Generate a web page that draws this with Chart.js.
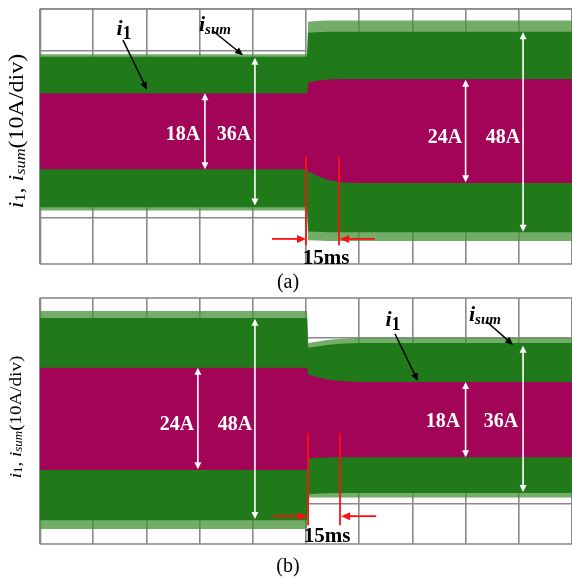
<!DOCTYPE html>
<html>
<head>
<meta charset="utf-8">
<script src="https://cdn.jsdelivr.net/npm/chart.js@4.4.1/dist/chart.umd.min.js"></script>
<style>
  html, body { margin: 0; padding: 0; background: #fff; }
  #wrap { position: relative; width: 572px; height: 579px; overflow: hidden; font-family: "Liberation Serif", "Times New Roman", serif; }
  canvas { position: absolute; left: 0; }
  .lbl { position: absolute; transform: translate(-50%, -50%); white-space: nowrap; line-height: 1; }
  .amp { color: #fff; font-weight: bold; font-size: 20px; }
  .ms { color: #000; font-weight: bold; font-size: 21px; }
  .sig { color: #000; font-weight: bold; font-style: italic; font-size: 22px; }
  .sig sub { font-size: 15px; vertical-align: -3px; }
  .sig sub.n { font-style: normal; font-size: 18px; vertical-align: -4px; }
  .cap { position: absolute; font-size: 20px; transform: translate(-50%, -50%); line-height: 1; }
  .ytitle { position: absolute; white-space: nowrap; line-height: 1; }
  .ytitle sub { font-size: 0.68em; vertical-align: -0.12em; }
  .yta { font-size: 20px; transform: translate(-50%, -50%) rotate(-90deg) scaleX(1.2); }
  .ytb { font-size: 17px; transform: translate(-50%, -50%) rotate(-90deg) scaleX(1.12); }
</style>
</head>
<body>
<div id="wrap">
  <canvas id="ca" width="572" height="265" style="top:0px"></canvas>
  <canvas id="cb" width="572" height="256" style="top:289px"></canvas>
</div>
<script>
// ---- data (time in ms, current in A) ----
const timeMs = [0, 125.5, 126, 130, 135, 141, 150, 250];
const xGridMs = [0, 25, 50, 75, 100, 125, 150, 175, 200, 225, 250];

// panel (a): load step up
const a_isumTop   = [18.6, 18.6, 24.4, 24.5, 24.6, 24.6, 24.6, 24.6];
const a_isumBot   = [-17.4, -17.4, -23.2, -23.3, -23.4, -23.4, -23.4, -23.4];
const a_i1Top     = [9.9, 9.9, 12.4, 12.9, 13.2, 13.3, 13.3, 13.3];
const a_i1Bot     = [-8.3, -8.3, -8.8, -9.8, -10.8, -11.4, -11.6, -11.6];
const a_spikeTop  = [19.2, 19.2, 27.0, 27.2, 27.3, 27.3, 27.3, 27.3];
const a_spikeBot  = [-18.2, -18.2, -25.3, -25.4, -25.5, -25.5, -25.5, -25.5];
const a_yTicks    = [-20, -10, 0, 10, 20, 30];

// panel (b): load step down
const b_isumTop   = [24.8, 24.8, 17.6, 17.9, 18.3, 18.6, 18.8, 18.8];
const b_isumBot   = [-23.9, -23.9, -17.6, -17.5, -17.4, -17.3, -17.3, -17.3];
const b_i1Top     = [12.8, 12.8, 11.2, 10.6, 10.0, 9.6, 9.4, 9.4];
const b_i1Bot     = [-11.8, -11.8, -9.0, -8.9, -8.8, -8.7, -8.7, -8.7];
const b_spikeTop  = [26.5, 26.5, 18.8, 19.1, 19.5, 19.8, 20.0, 20.0];
const b_spikeBot  = [-26.0, -26.0, -18.4, -18.4, -18.4, -18.4, -18.4, -18.4];
const b_yTicks    = [-20, -10, 0, 10, 20];

// annotations (data units)
const a_notes = {
  white: [[77.5, 9.9, -8.3], [101, 18.4, -17.0], [200, 13.1, -11.4], [227, 24.5, -23.3]],
  pointers: [[39, 22.6, 50.3, 10.7], [81.3, 24.8, 95.4, 19.0]],
  redV: [[125, -5.4, -26.5], [140.5, -5.4, -26.5]],
  redArrows: [[109, 125, -25.0], [157.4, 141, -25.0]]
};
const b_notes = {
  white: [[74.2, 12.8, -11.6], [101, 24.6, -23.6], [200, 9.4, -8.7], [227, 18.1, -17.1]],
  pointers: [[166.8, 21.0, 177.6, 9.6], [210, 23.9, 222.3, 18.3]],
  redV: [[126, -2.9, -25.1], [141, -2.9, -25.1]],
  redArrows: [[109.5, 125.5, -22.9], [158, 141.5, -22.9]]
};
const a_labels = [
  ['<i>i</i><sub class="n">1</sub>', 'sig', 39.5, 25.3],
  ['<i>i</i><sub>sum</sub>', 'sig', 82.2, 26.3],
  ['18A', 'amp', 67.2, 0.36], ['36A', 'amp', 91.2, 0.36],
  ['24A', 'amp', 190.3, -0.36], ['48A', 'amp', 217.6, -0.36],
  ['15ms', 'ms', 134.4, -29.3]
];
const b_labels = [
  ['<i>i</i><sub class="n">1</sub>', 'sig', 165.9, 24.3],
  ['<i>i</i><sub>sum</sub>', 'sig', 209.1, 25.6],
  ['24A', 'amp', 64.4, -0.5], ['48A', 'amp', 91.6, -0.5],
  ['18A', 'amp', 189.4, 0.24], ['36A', 'amp', 216.6, 0.24],
  ['15ms', 'ms', 134.9, -27.5]
];

const GREEN = 'rgb(32,122,26)';
const MAGENTA = 'rgb(162,4,88)';
const SPIKE = 'rgba(70,145,55,0.75)';
const GRID = '#8a8a8a';

function pts(vals) { return timeMs.map((t, i) => ({ x: t, y: vals[i] })); }

function head(ctx, x1, y1, x2, y2, len, w) {
  const ang = Math.atan2(y2 - y1, x2 - x1);
  ctx.beginPath();
  ctx.moveTo(x2, y2);
  ctx.lineTo(x2 - len * Math.cos(ang) + w * Math.sin(ang), y2 - len * Math.sin(ang) - w * Math.cos(ang));
  ctx.lineTo(x2 - len * Math.cos(ang) - w * Math.sin(ang), y2 - len * Math.sin(ang) + w * Math.cos(ang));
  ctx.closePath();
  ctx.fill();
}

const frame = {
  id: 'frame',
  beforeDraw(chart) {
    const { ctx, chartArea: a } = chart;
    ctx.save();
    ctx.strokeStyle = GRID; ctx.lineWidth = 1.6;
    ctx.strokeRect(a.left + 0.5, a.top, a.right - a.left + 2, a.bottom - a.top);
    ctx.restore();
  }
};

const annot = {
  id: 'annot',
  afterDatasetsDraw(chart, args, opts) {
    const { ctx, scales: { x, y } } = chart;
    const n = opts.notes;
    ctx.save();
    ctx.strokeStyle = '#fff'; ctx.fillStyle = '#fff'; ctx.lineWidth = 1.6;
    n.white.forEach(([t, v1, v2]) => {
      const px = x.getPixelForValue(t), p1 = y.getPixelForValue(v1), p2 = y.getPixelForValue(v2);
      ctx.beginPath(); ctx.moveTo(px, p1 + 4); ctx.lineTo(px, p2 - 4); ctx.stroke();
      head(ctx, px, p2, px, p1, 7, 3.5);
      head(ctx, px, p1, px, p2, 7, 3.5);
    });
    ctx.strokeStyle = '#000'; ctx.fillStyle = '#000'; ctx.lineWidth = 1.5;
    n.pointers.forEach(([t1, v1, t2, v2]) => {
      const x1 = x.getPixelForValue(t1), y1 = y.getPixelForValue(v1);
      const x2 = x.getPixelForValue(t2), y2 = y.getPixelForValue(v2);
      ctx.beginPath(); ctx.moveTo(x1, y1); ctx.lineTo(x2 - (x2 - x1) * 0.1, y2 - (y2 - y1) * 0.1); ctx.stroke();
      head(ctx, x1, y1, x2, y2, 8, 3.5);
    });
    ctx.strokeStyle = '#ff1010'; ctx.fillStyle = '#ff1010'; ctx.lineWidth = 1.8;
    n.redV.forEach(([t, v1, v2]) => {
      const px = x.getPixelForValue(t);
      ctx.beginPath(); ctx.moveTo(px, y.getPixelForValue(v1)); ctx.lineTo(px, y.getPixelForValue(v2)); ctx.stroke();
    });
    n.redArrows.forEach(([t1, t2, v]) => {
      const x1 = x.getPixelForValue(t1), x2 = x.getPixelForValue(t2), py = y.getPixelForValue(v);
      const dir = Math.sign(x2 - x1);
      ctx.beginPath(); ctx.moveTo(x1, py); ctx.lineTo(x2 - dir * 6, py); ctx.stroke();
      head(ctx, x1, py, x2, py, 9, 4);
    });
    ctx.restore();
  }
};

function makeChart(id, s, yMin, yMax, yTicks, notes) {
  const ds = (vals, color, fill) => ({
    data: pts(vals), backgroundColor: color, borderWidth: 0, pointRadius: 0,
    fill: fill, tension: 0
  });
  return new Chart(document.getElementById(id), {
    type: 'line',
    data: {
      datasets: [
        ds(s.i1Top, MAGENTA, '+1'), ds(s.i1Bot, MAGENTA, false),
        ds(s.sumTop, GREEN, '+1'), ds(s.sumBot, GREEN, false),
        ds(s.spTop, SPIKE, '+1'), ds(s.spBot, SPIKE, false)
      ]
    },
    options: {
      responsive: false, animation: false, events: [],
      layout: { padding: { left: 40, top: 9, right: 0, bottom: 1 } },
      plugins: { legend: { display: false }, tooltip: { enabled: false }, annot: { notes } },
      scales: {
        x: {
          type: 'linear', min: 0, max: 250,
          afterBuildTicks: sc => { sc.ticks = xGridMs.map(v => ({ value: v })); },
          afterFit: sc => { sc.height = 0; },
          ticks: { display: false }, border: { display: false },
          grid: { color: GRID, lineWidth: 1.6, drawTicks: false }
        },
        y: {
          type: 'linear', min: yMin, max: yMax,
          afterBuildTicks: sc => { sc.ticks = yTicks.map(v => ({ value: v })); },
          afterFit: sc => { sc.width = 0; },
          ticks: { display: false }, border: { display: false },
          grid: { color: GRID, lineWidth: 1.6, drawTicks: false }
        }
      }
    },
    plugins: [frame, annot]
  });
}

const chartA = makeChart('ca', { i1Top: a_i1Top, i1Bot: a_i1Bot, sumTop: a_isumTop, sumBot: a_isumBot, spTop: a_spikeTop, spBot: a_spikeBot }, -31.0, 30.06, a_yTicks, a_notes);
const chartB = makeChart('cb', { i1Top: b_i1Top, i1Bot: b_i1Bot, sumTop: b_isumTop, sumBot: b_isumBot, spTop: b_spikeTop, spBot: b_spikeBot }, -29.6, 29.6, b_yTicks, b_notes);

const wrap = document.getElementById('wrap');
function placeLabels(chart, top, list) {
  list.forEach(([html, cls, t, v]) => {
    const d = document.createElement('div');
    d.className = 'lbl ' + cls;
    d.innerHTML = html;
    d.style.left = chart.scales.x.getPixelForValue(t) + 'px';
    d.style.top = (top + chart.scales.y.getPixelForValue(v)) + 'px';
    wrap.appendChild(d);
  });
}
placeLabels(chartA, 0, a_labels);
placeLabels(chartB, 289, b_labels);

function addText(cls, html, left, top) {
  const d = document.createElement('div');
  d.className = cls; d.innerHTML = html;
  d.style.left = left + 'px'; d.style.top = top + 'px';
  wrap.appendChild(d);
}
addText('cap', '(a)', 288, 281);
addText('cap', '(b)', 288, 565);
const yt = '<i>i</i><sub>1</sub>, <i>i</i><sub><i>sum</i></sub>(10A/div)';
addText('ytitle yta', yt, 17, 131);
addText('ytitle ytb', yt, 16, 417);
</script>
</body>
</html>
